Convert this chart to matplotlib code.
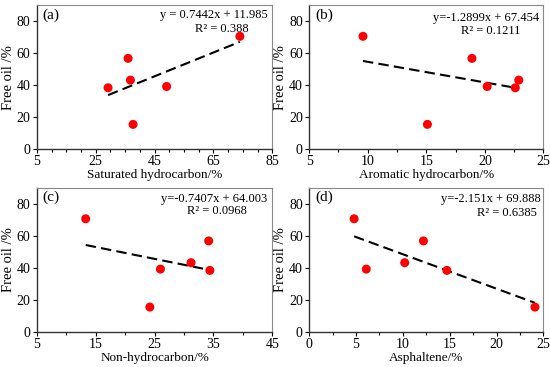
"""
Free oil vs. group composition: four scatter panels with linear trendlines.
"""

import numpy as np
import matplotlib.pyplot as plt
from matplotlib.ticker import MultipleLocator

# Free oil content of the six samples (%)
free_oil = [70.5, 56.7, 43.1, 39.1, 38.3, 15.4]

# Group composition of the same samples (%)
saturated = [74.0, 36.0, 36.8, 49.1, 29.2, 37.7]
aromatic = [9.6, 18.9, 22.9, 20.2, 22.6, 15.1]
non_hydrocarbon = [13.3, 34.2, 31.2, 26.0, 34.4, 24.2]
asphaltene = [4.8, 12.2, 10.2, 6.1, 14.7, 24.1]

# Trendline coefficients (slope, intercept) as printed on the chart
fits = [(0.7442, 11.985), (-1.2899, 67.454), (-0.7407, 64.003), (-2.151, 69.888)]
eq_texts = ["y = 0.7442x + 11.985", "y=-1.2899x + 67.454",
            "y=-0.7407x + 64.003", "y=-2.151x + 69.888"]
r2_texts = ["R² = 0.388", "R² = 0.1211", "R² = 0.0968", "R² = 0.6385"]
panel_tags = ["(a)", "(b)", "(c)", "(d)"]
x_labels = ["Saturated hydrocarbon/%", "Aromatic hydrocarbon/%",
            "Non-hydrocarbon/%", "Asphaltene/%"]
x_ranges = [(5, 85), (5, 25), (5, 45), (0, 25)]
x_major = [20, 5, 10, 5]
x_minor = [5, 2.5, 5, 2.5]

# axes boxes in figure fractions [left, bottom, width, height]
boxes = [[0.067, 0.594, 0.428, 0.392], [0.562, 0.594, 0.426, 0.392],
         [0.067, 0.096, 0.428, 0.393], [0.562, 0.096, 0.426, 0.393]]
# positions of the equation / R² lines (axes fraction, right aligned)
eq_pos = [(0.979, 0.93), (0.98, 0.91), (0.977, 0.92), (0.987, 0.92)]
r2_pos = [(0.898, 0.833), (0.902, 0.82), (0.892, 0.84), (0.973, 0.82)]

plt.rcParams['font.family'] = ['Liberation Serif', 'DejaVu Serif']


def main():
    fig = plt.figure(figsize=(5.5, 3.67), dpi=100)
    xs_all = [saturated, aromatic, non_hydrocarbon, asphaltene]

    for i in range(4):
        ax = fig.add_axes(boxes[i])
        x = np.array(xs_all[i])
        y = np.array(free_oil)
        k, b = fits[i]
        xl = np.array([x.min(), x.max()])
        ax.plot(xl, k * xl + b, color='black', lw=1.5, ls=(0, (5, 2.5)), zorder=2)
        ax.scatter(x, y, s=42, color='#ff0000', edgecolors='none', zorder=3)

        lo, hi = x_ranges[i]
        ax.set_xlim(lo, hi)
        ax.set_ylim(0, 90)
        ax.xaxis.set_major_locator(MultipleLocator(x_major[i], offset=lo))
        ax.xaxis.set_minor_locator(MultipleLocator(x_minor[i], offset=lo))
        ax.yaxis.set_major_locator(MultipleLocator(20))
        ax.tick_params(axis='both', which='major', direction='out', length=3,
                       width=0.8, labelsize=10, pad=1.5)
        ax.tick_params(axis='x', which='minor', direction='out', length=2, width=0.8)
        ax.tick_params(top=False, right=False)
        for side in ('top', 'right'):
            ax.spines[side].set_color('#888888')
        for side in ('left', 'bottom'):
            ax.spines[side].set_color('#333333')
            ax.spines[side].set_linewidth(1.0)

        ax.set_xlabel(x_labels[i], fontsize=9.5, labelpad=0.5)
        ax.set_ylabel("Free oil /%", fontsize=10.5, labelpad=1.5)

        ax.text(0.025, 0.93, panel_tags[i], transform=ax.transAxes,
                fontsize=11, ha='left', va='center')
        ax.text(*eq_pos[i], eq_texts[i], transform=ax.transAxes,
                fontsize=9, ha='right', va='center')
        ax.text(*r2_pos[i], r2_texts[i], transform=ax.transAxes,
                fontsize=9, ha='right', va='center')

    fig.savefig("out.png", dpi=100)


if __name__ == "__main__":
    main()
